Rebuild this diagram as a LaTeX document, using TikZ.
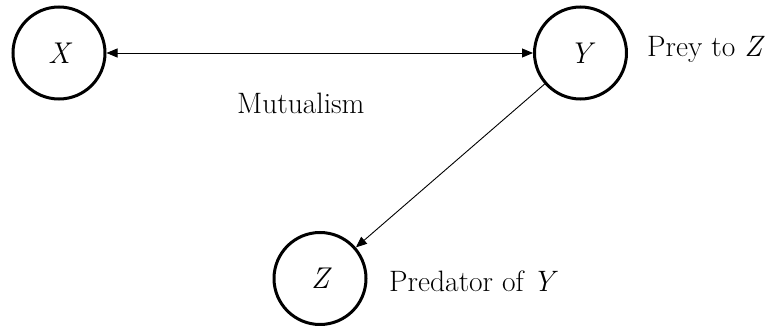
\documentclass[tikz,border=0pt]{standalone}
\usetikzlibrary{arrows.meta}
\begin{document}
\begin{tikzpicture}[x=1pt,y=-1pt,
  species/.style={circle,draw,line width=3pt,minimum size=92pt,inner sep=0pt,font=\fontsize{30}{33}\selectfont\itshape},
  lbl/.style={font=\fontsize{29.5}{33}\selectfont,inner sep=0pt,anchor=west},
  link/.style={line width=0.9pt,-{Triangle[length=11pt,width=9pt]}}]
\useasboundingbox (0,0) rectangle (769,326);
\node[species] (X) at (59,53) {X};
\node[species] (Y) at (580.5,53) {Y};
\node[species] (Z) at (320,278.5) {Z};
\node[lbl] (ly) at (647,49) {Prey to \textit{Z}};
\node[lbl] (lz) at (389,281) {Predator of \textit{Y}};
\node[lbl] (lm) at (237,103) {Mutualism};
\draw[link,{Triangle[length=11pt,width=9pt]}-{Triangle[length=11pt,width=9pt]}] (X.east) -- (Y.west);
\draw[link] (Y) -- (Z);
\end{tikzpicture}
\end{document}
